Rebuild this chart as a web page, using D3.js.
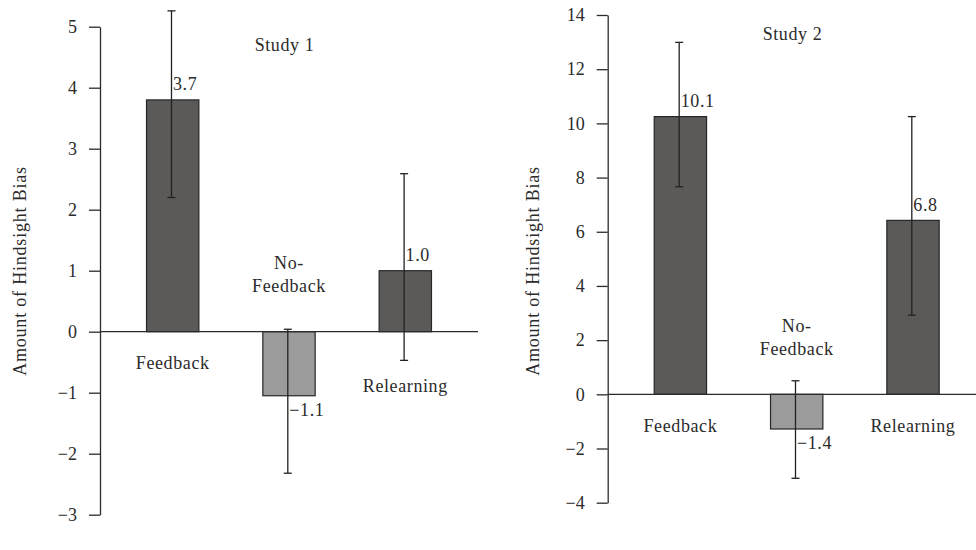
<!DOCTYPE html>
<html>
<head>
<meta charset="utf-8">
<script src="https://cdn.jsdelivr.net/npm/d3@7"></script>
<style>
  body { margin: 0; background: #fff; }
</style>
</head>
<body>
<div id="chart"></div>
<script>
// data
const categories = ["Feedback", "No-Feedback", "Relearning"];

const study1Values = [3.8, -1.05, 1.0];
const study1Low = [2.2, -2.32, -0.47];
const study1High = [5.26, 0.04, 2.59];
const study1Labels = ["3.7", "\u22121.1", "1.0"];
const study1Ticks = [-3, -2, -1, 0, 1, 2, 3, 4, 5];

const study2Values = [10.25, -1.28, 6.42];
const study2Low = [7.66, -3.1, 2.92];
const study2High = [12.99, 0.5, 10.25];
const study2Labels = ["10.1", "\u22121.4", "6.8"];
const study2Ticks = [-4, -2, 0, 2, 4, 6, 8, 10, 12, 14];

const width = 976, height = 550;
const FONT = "Liberation Serif";
const INK = "#2b2b2b";

const svg = d3.select("#chart")
    .append("svg")
    .attr("width", width)
    .attr("height", height)
    .attr("font-family", FONT);

// helper for all the serif labels
function label(g, txt, x, y, anchor, spacing) {
    return g.append("text")
        .attr("x", x).attr("y", y).attr("dy", "0.35em")
        .attr("text-anchor", anchor || "start")
        .attr("font-family", FONT)
        .attr("font-size", 18)
        .attr("letter-spacing", spacing == null ? 0.6 : spacing)
        .attr("fill", INK)
        .text(txt);
}

function drawPanel(p) {
    var data = categories.map(function(c, i) {
        return {cat: c, value: p.values[i], low: p.low[i], high: p.high[i], label: p.labels[i]};
    });

    var x = d3.scaleBand()
        .domain(categories)
        .range([p.left, p.left + 378])
        .paddingInner(0.55)
        .paddingOuter(0.4);

    var y = d3.scaleLinear()
        .domain(d3.extent(p.ticks))
        .range([p.bottom, p.top]);

    var g = svg.append("g");

    // y axis
    var axis = g.append("g")
        .attr("transform", `translate(${p.left},0)`)
        .call(d3.axisLeft(y).tickValues(p.ticks).tickSize(11).tickSizeOuter(0).tickPadding(12).tickFormat(d3.format("d")));
    axis.attr("font-family", FONT).attr("font-size", 18);
    axis.select(".domain").attr("stroke", INK).attr("stroke-width", 1.3);
    axis.selectAll(".tick line").attr("stroke", INK).attr("stroke-width", 1.3);
    axis.selectAll(".tick text").attr("fill", INK);

    // bars
    g.selectAll("rect.bar")
        .data(data)
        .enter()
        .append("rect")
        .attr("class", "bar")
        .attr("x", d => x(d.cat))
        .attr("y", d => y(Math.max(0, d.value)))
        .attr("width", x.bandwidth())
        .attr("height", d => Math.abs(y(d.value) - y(0)))
        .attr("fill", d => d.value < 0 ? "#9b9b9b" : "#5b5a58")
        .attr("stroke", "#262626")
        .attr("stroke-width", 1.2);

    // zero line
    g.append("line")
        .attr("x1", p.left).attr("x2", x.range()[1])
        .attr("y1", y(0)).attr("y2", y(0))
        .attr("stroke", INK)
        .attr("stroke-width", 1.3);

    // error bars
    var cx = d => x(d.cat) + x.bandwidth() / 2 - 1.2;
    var err = g.selectAll("g.err").data(data).enter().append("g").attr("class", "err");
    err.append("line")
        .attr("x1", cx).attr("x2", cx)
        .attr("y1", d => y(d.low)).attr("y2", d => y(d.high));
    err.append("line")
        .attr("x1", d => cx(d) - 4).attr("x2", d => cx(d) + 4)
        .attr("y1", d => y(d.high)).attr("y2", d => y(d.high));
    err.append("line")
        .attr("x1", d => cx(d) - 4).attr("x2", d => cx(d) + 4)
        .attr("y1", d => y(d.low)).attr("y2", d => y(d.low));
    err.selectAll("line").attr("stroke", "#222").attr("stroke-width", 1.3);

    // value labels + category labels
    data.forEach(function(d) {
        label(g, d.label, cx(d) + 1.5, d.value >= 0 ? y(d.value) - 16 : y(d.value) + 14, "start");

        var c = x(d.cat) + x.bandwidth() / 2;
        if (d.value < 0) {
            var parts = d.cat.split("-");
            label(g, parts[0] + "-", c, y(0) - 69, "middle");
            label(g, parts[1], c, y(0) - 46, "middle");
        } else {
            label(g, d.cat, c, Math.max(y(0) + 31, y(d.low) + 25), "middle");
        }
    });

    // title
    label(g, p.title, p.titleX, p.titleY, "middle");

    // y label
    label(g, "Amount of Hindsight Bias", 0, 0, "middle", 0.8)
        .attr("transform", `translate(${p.labelX},${p.labelY}) rotate(-90)`);
}

drawPanel({
    values: study1Values, low: study1Low, high: study1High, labels: study1Labels,
    ticks: study1Ticks, left: 100, top: 26.7, bottom: 514.7,
    title: "Study 1", titleX: 284.5, titleY: 45, labelX: 20, labelY: 271
});

drawPanel({
    values: study2Values, low: study2Low, high: study2High, labels: study2Labels,
    ticks: study2Ticks, left: 607.7, top: 15, bottom: 502.7,
    title: "Study 2", titleX: 792.5, titleY: 33.5, labelX: 532.5, labelY: 271
});
</script>
</body>
</html>
